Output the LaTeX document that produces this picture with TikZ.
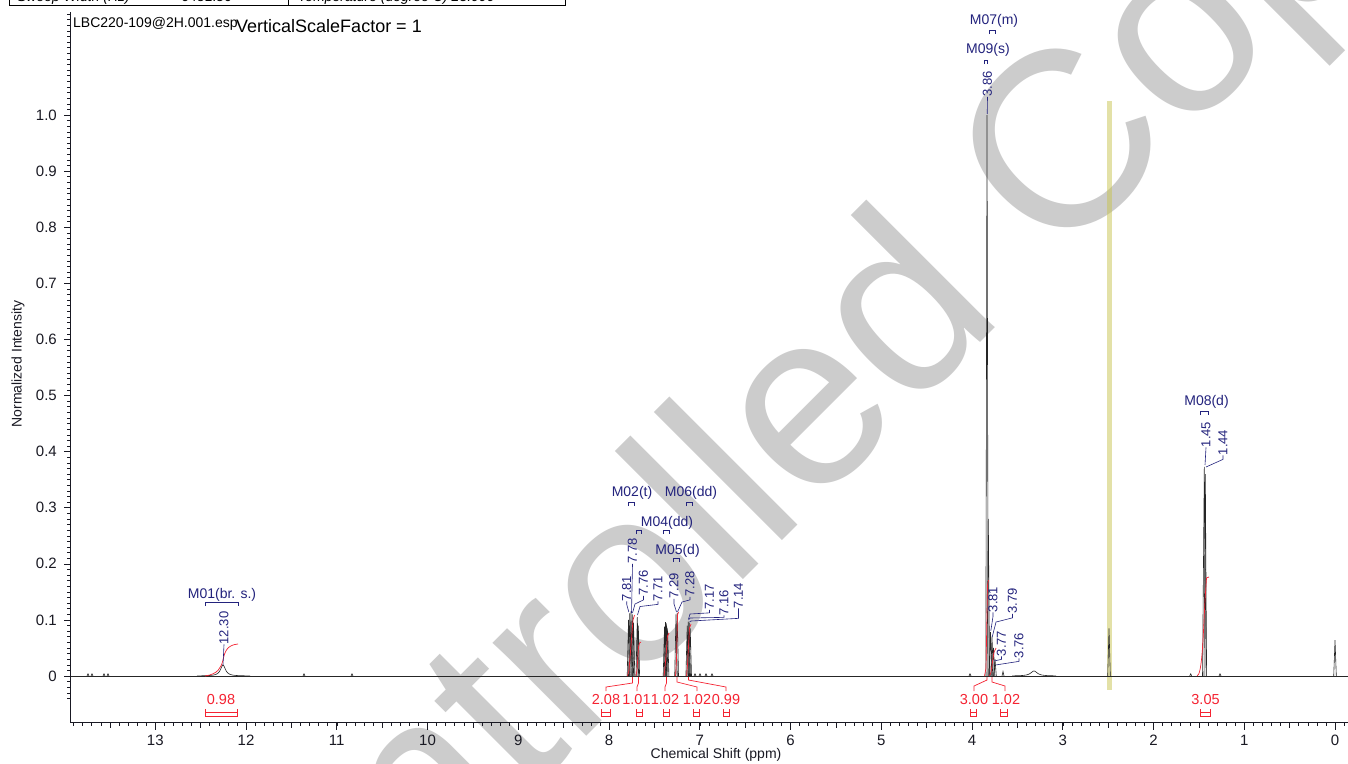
\documentclass[tikz,border=0pt]{standalone}
\usepackage{fontspec}
\setmainfont{Liberation Sans}
\definecolor{navy}{RGB}{35,35,125}
\definecolor{intred}{RGB}{245,35,50}
\definecolor{wmgray}{RGB}{204,204,204}
\definecolor{bandc}{RGB}{200,196,80}
\definecolor{axisc}{RGB}{25,25,35}
\newcommand\myfs[1]{\fontsize{#1}{#1}\selectfont}
\newcommand\pk[3][1.3]{\draw[specline] ({#2-#1},676) -- (#2,{676-561*#3}) -- ({#2+#1},676);}
\newcommand\mbrk[3]{\draw[lead] (#1,#3+4) -- (#1,#3) -- (#2,#3) -- (#2,#3+4);}
\newcommand\ibrk[2]{\draw[intc] (#1,709) -- (#1,716) -- (#2,716) -- (#2,709); \draw[intc,line width=0.5pt] (#1,712.5) -- (#2,712.5);}
\begin{document}
\begin{tikzpicture}[x=1pt,y=-1pt,
  specline/.style={line width=0.6pt, black!85},
  intc/.style={line width=0.7pt, intred},
  lead/.style={line width=0.6pt, navy},
  mlab/.style={text=navy, font=\myfs{14}, inner sep=0pt},
  plab/.style={text=navy, font=\myfs{13}, inner sep=0pt, rotate=90},
  ilab/.style={text=intred, font=\myfs{14.5}, inner sep=0pt},
  tlab/.style={text=axisc, font=\myfs{15}, inner sep=0pt},
]
\useasboundingbox (0,0) rectangle (1348,763);
\fill[white] (0,0) rectangle (1348,763);
% watermark
\node[anchor=base west, rotate=45, text=wmgray, font=\myfs{250}, inner sep=0pt] (wmk) at (201,1122) {Controlled Copy};
% solvent band
\fill[bandc, opacity=0.5] (1106.5,101) rectangle (1112,690);
% header table (cut off)
\draw[line width=0.8pt] (9,-8) -- (9,5) -- (565,5) -- (565,-8);
\draw[line width=0.8pt] (288,-8) -- (288,5);
\node[anchor=base west, font=\myfs{14}\itshape, inner sep=0pt] (h1) at (17,1.5) {Sweep Width (Hz)};
\node[anchor=base west, font=\myfs{14}, inner sep=0pt] (h2) at (181,1.5) {6451.50};
\node[anchor=base west, font=\myfs{14}\itshape, inner sep=0pt] (h3) at (298,1.5) {Temperature (degree C) 25.000};
\node[anchor=base west, font=\myfs{14}, inner sep=0pt] (fname) at (73,27.5) {LBC220-109@2H.001.esp};
\node[anchor=base west, font=\myfs{18}, inner sep=0pt] (vsf) at (236,32.5) {VerticalScaleFactor = 1};
% axes
\draw[line width=0.8pt, axisc] (70.5,12) -- (70.5,722) -- (1348,722);
\foreach \v in {-4,...,118} \draw[line width=0.5pt, axisc] (70.5,{676-5.61*\v}) -- (67,{676-5.61*\v});
\foreach \v/\l in {0/0,1/0.1,2/0.2,3/0.3,4/0.4,5/0.5,6/0.6,7/0.7,8/0.8,9/0.9,10/1.0}{
  \draw[line width=0.6pt, axisc] (70.5,{676-56.1*\v}) -- (63.5,{676-56.1*\v});
  \node[tlab, anchor=east] (yl\v) at (57,{676-56.1*\v}) {\l};
}
\foreach \t in {-1,...,139} \draw[line width=0.5pt, axisc] ({1335-9.075*\t},722) -- ++(0,4);
\foreach \t in {5,15,...,135} \draw[line width=0.5pt, axisc] ({1335-9.075*\t},722) -- ++(0,6);
\foreach \t in {0,...,13}{
  \draw[line width=0.6pt, axisc] ({1335-90.75*\t},722) -- ++(0,8);
  \node[tlab] (xl\t) at ({1335-90.75*\t},740.5) {\t};
}
\node[tlab, font=\myfs{14}] (xtitle) at (716,755) {Chemical Shift (ppm)};
\node[tlab, font=\myfs{14}, rotate=90] (ytitle) at (18,364) {Normalized Intensity};
% spectrum
\draw[specline] (70.5,676) -- (1348,676);
\draw[specline] plot[domain=197:250, samples=107] (\x,{676-11/(1+((\x-223)/3)^2)});
\draw[specline] plot[domain=1012:1056, samples=89] (\x,{676-5/(1+((\x-1034)/4)^2)});
\foreach \p in {88,92,104,108,304,352,695,700,706,712,970,1190.7,1220} {\pk[1]{\p}{0.004}}
\pk{628.5}{0.10}\pk{629.8}{0.112}\pk{631}{0.115}\pk{632.3}{0.11}\pk{633.5}{0.095}
\pk{637.3}{0.105}\pk{638.3}{0.09}
\pk{664.5}{0.088}\pk{665.5}{0.096}\pk{666.6}{0.094}\pk{667.6}{0.085}
\pk{676}{0.11}\pk{677.2}{0.112}
\pk{687.2}{0.09}\pk{688.2}{0.097}\pk{689.2}{0.095}\pk{690.2}{0.085}
\pk[1.2]{987}{1.0}\pk{988.3}{0.28}
\pk{990.5}{0.078}\pk{992}{0.07}\pk{993.5}{0.05}\pk{995}{0.03}\pk[1]{1003}{0.008}
\pk{1109}{0.085}
\pk[1.8]{1204.3}{0.373}\pk{1205.3}{0.36}
\pk{1335}{0.064}
% integrals
\draw[intc] (205,676) .. controls (218,674) and (221,668) .. (223,660) .. controls (225,650) and (228,645) .. (238,644);
\draw[intc] (627.5,676) -- (629,670) -- (633,620) -- (634.5,615);
\draw[intc] (636,676) -- (637,670) -- (638.5,647) -- (639.5,643) -- (641,642);
\draw[intc] (664,676) -- (665,668) -- (667.5,636) -- (669,633);
\draw[intc] (675.5,676) -- (676.5,660) -- (677.5,615) -- (678.5,612);
\draw[intc] (686.5,676) -- (687.5,665) -- (689.5,628) -- (691,624);
\draw[intc] (984.5,676) -- (986,668) -- (987.5,585) -- (988.5,580);
\draw[intc] (989.5,676) -- (991,672) -- (994,652) -- (996,648);
\draw[intc] (1197,676) .. controls (1202,675) and (1203,640) .. (1205,600) -- (1206.5,578) -- (1209,577);
% integral leaders
\draw[intc] (632.5,677) -- (632.5,683) -- (606,687) -- (606,691);
\draw[intc] (638.5,677) -- (638.5,683) -- (637,687) -- (637,691);
\draw[intc] (666.5,677) -- (666.5,683) -- (665,687) -- (665,691);
\draw[intc] (677,677) -- (677,682) -- (697,687) -- (697,691);
\draw[intc] (688.5,677) -- (688.5,680) -- (726,687) -- (726,691);
\draw[intc] (987,677) -- (987,680) -- (974,686) -- (974,691);
\draw[intc] (992,677) -- (992,682) -- (1005,686) -- (1005,691);
% integral labels
\node[ilab] (i1) at (221,699.5) {0.98};
\node[ilab] (i2) at (606,699.5) {2.08};
\node[ilab] (i3) at (636.5,699.5) {1.01};
\node[ilab] (i4) at (665,699.5) {1.02};
\node[ilab] (i5) at (697,699.5) {1.02};
\node[ilab] (i6) at (726,699.5) {0.99};
\node[ilab] (i7) at (974,699.5) {3.00};
\node[ilab] (i8) at (1006,699.5) {1.02};
\node[ilab] (i9) at (1205.5,699.5) {3.05};
\ibrk{205}{237}\ibrk{601}{610}\ibrk{636}{642}\ibrk{663}{669}\ibrk{693}{699}
\ibrk{723}{729}\ibrk{970}{976}\ibrk{1000}{1007}\ibrk{1200}{1210}
% multiplet labels
\node[mlab] (m1) at (222,595) {M01(br. s.)};
\node[mlab] (m2) at (632,493) {M02(t)};
\node[mlab] (m6) at (691,493) {M06(dd)};
\node[mlab] (m4) at (667,523) {M04(dd)};
\node[mlab] (m5) at (677.5,551) {M05(d)};
\node[mlab] (m7) at (994,21) {M07(m)};
\node[mlab] (m9) at (988,50) {M09(s)};
\node[mlab] (m8) at (1206.5,402) {M08(d)};
\mbrk{205}{238}{602}\mbrk{628}{634}{502}\mbrk{686}{692.5}{502}\mbrk{636}{641.5}{530}
\mbrk{663}{669}{530}\mbrk{673.5}{679}{558}\mbrk{989}{995.5}{30}\mbrk{984}{987.5}{60}
\mbrk{1200}{1208}{411}
% peak labels
\node[plab] (p1) at (224,628) {12.30};
\node[plab] (p2) at (626.7,588.5) {7.81};
\node[plab] (p3) at (632.5,551) {7.78};
\node[plab] (p4) at (643.5,583) {7.76};
\node[plab] (p5) at (658,588.5) {7.71};
\node[plab] (p6) at (674,586) {7.29};
\node[plab] (p7) at (690,584) {7.28};
\node[plab] (p8) at (709.5,597) {7.17};
\node[plab] (p9) at (724,602.5) {7.16};
\node[plab] (p10) at (738.5,595.5) {7.14};
\node[plab] (p11) at (987.5,84) {3.86};
\node[plab] (p12) at (993,599.5) {3.81};
\node[plab] (p13) at (1012.5,601) {3.79};
\node[plab] (p14) at (1001.5,643.5) {3.77};
\node[plab] (p15) at (1019,645.5) {3.76};
\node[plab] (p16) at (1206,434.5) {1.45};
\node[plab] (p17) at (1223,442.5) {1.44};
% peak leaders
\draw[lead] (p1.west) -- (223,665);
\draw[lead] (p2.west) -- ++(0,3) -- (628.8,612);
\draw[lead] (p3.west) -- (631.5,613);
\draw[lead] (p4.west) -- ++(0,4) -- (635,604) -- (632.5,613);
\draw[lead] (p5.west) -- ++(0,3) -- (640,606.5) -- (637.5,615);
\draw[lead] (p6.west) -- ++(0,5) -- (676.5,612);
\draw[lead] (p7.west) -- ++(0,3) -- (682,602) -- (677.5,612);
\draw[lead] (p8.west) -- ++(0,3) -- (690,614) -- (688.5,619);
\draw[lead] (p9.west) -- ++(0,2) -- (690,618) -- (688.5,620);
\draw[lead] (p10.west) -- ++(0,10) -- (691,621) -- (689.5,622);
\draw[lead] (p11.west) -- (987.2,114);
\draw[lead] (p12.west) -- ++(0,4) -- (990.8,631);
\draw[lead] (p13.west) -- ++(0,4) -- (996,622) -- (992.2,637);
\draw[lead] (p14.west) -- ++(0,3) -- (994,661);
\draw[lead] (p15.west) -- ++(0,3) -- (995.5,665);
\draw[lead] (p16.west) -- (1205,465);
\draw[lead] (p17.west) -- ++(0,4) -- (1206,467);
\end{tikzpicture}
\end{document}
